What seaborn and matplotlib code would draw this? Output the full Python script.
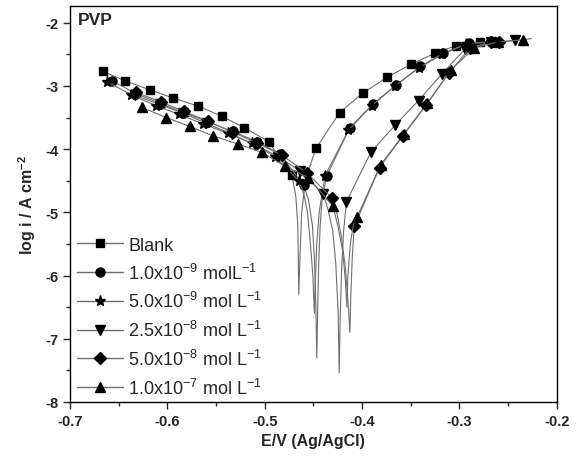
import matplotlib
matplotlib.use("Agg")
import matplotlib.pyplot as plt
from matplotlib.lines import Line2D
from matplotlib.ticker import MultipleLocator
import seaborn as sns
import pandas as pd

# ---------------- data ----------------
labels = ["Blank",
          r"1.0x10$^{-9}$ molL$^{-1}$",
          r"5.0x10$^{-9}$ mol L$^{-1}$",
          r"2.5x10$^{-8}$ mol L$^{-1}$",
          r"5.0x10$^{-8}$ mol L$^{-1}$",
          r"1.0x10$^{-7}$ mol L$^{-1}$"]
marker_shapes = ["s", "o", "*", "v", "D", "^"]

# Blank
blank_cath_E = [-0.666, -0.643, -0.618, -0.594, -0.568, -0.544, -0.521, -0.496, -0.472]
blank_cath_i = [-2.77, -2.92, -3.06, -3.19, -3.32, -3.48, -3.66, -3.88, -4.41]
blank_dip_E = [-0.468, -0.466, -0.4655, -0.465, -0.4635, -0.462, -0.459, -0.455, -0.451]
blank_dip_i = [-4.75, -5.2, -5.7, -6.3, -5.6, -5.0, -4.6, -4.35, -4.15]
blank_an_E = [-0.447, -0.423, -0.399, -0.374, -0.350, -0.325, -0.303, -0.279]
blank_an_i = [-3.98, -3.42, -3.11, -2.86, -2.66, -2.48, -2.36, -2.30]

# 1.0e-9
c1_cath_E = [-0.657, -0.632, -0.607, -0.583, -0.558, -0.533, -0.508, -0.484, -0.460]
c1_cath_i = [-2.92, -3.12, -3.28, -3.42, -3.57, -3.72, -3.88, -4.08, -4.57]
c1_dip_E = [-0.455, -0.451, -0.449, -0.4475, -0.4465, -0.4455, -0.4445, -0.443, -0.441]
c1_dip_i = [-4.8, -5.2, -5.7, -6.4, -7.3, -6.5, -5.8, -5.2, -4.8]
c1_an_E = [-0.4365, -0.4125, -0.3886, -0.3647, -0.340, -0.3167, -0.290, -0.265]
c1_an_i = [-4.43, -3.66, -3.28, -2.98, -2.69, -2.48, -2.32, -2.30]

# 5.0e-9
c2_cath_E = [-0.662, -0.637, -0.612, -0.588, -0.563, -0.538, -0.513, -0.489, -0.465]
c2_cath_i = [-2.93, -3.14, -3.31, -3.45, -3.60, -3.75, -3.91, -4.12, -4.50]
c2_dip_E = [-0.460, -0.456, -0.453, -0.4505, -0.449, -0.448, -0.4465, -0.444, -0.441]
c2_dip_i = [-4.7, -5.0, -5.5, -6.0, -6.6, -6.1, -5.5, -5.0, -4.7]
c2_an_E = [-0.438, -0.414, -0.390, -0.366, -0.342, -0.318, -0.293, -0.268]
c2_an_i = [-4.42, -3.70, -3.31, -3.00, -2.72, -2.50, -2.34, -2.30]

# 2.5e-8
c3_cath_E = [-0.633, -0.608, -0.584, -0.560, -0.534, -0.510, -0.486, -0.464, -0.440]
c3_cath_i = [-3.15, -3.29, -3.43, -3.59, -3.76, -3.93, -4.12, -4.34, -4.71]
c3_dip_E = [-0.435, -0.430, -0.427, -0.4245, -0.4235, -0.4225, -0.421, -0.419]
c3_dip_i = [-4.95, -5.3, -5.8, -6.6, -7.54, -6.7, -5.9, -5.3]
c3_an_E = [-0.416, -0.391, -0.366, -0.342, -0.318, -0.2945, -0.268, -0.243]
c3_an_i = [-4.83, -4.05, -3.62, -3.23, -2.81, -2.42, -2.31, -2.28]

# 5.0e-8
c4_cath_E = [-0.632, -0.607, -0.583, -0.558, -0.533, -0.508, -0.482, -0.457, -0.431]
c4_cath_i = [-3.10, -3.25, -3.40, -3.56, -3.73, -3.90, -4.10, -4.37, -4.77]
c4_dip_E = [-0.426, -0.421, -0.417, -0.414, -0.4125, -0.4115, -0.410]
c4_dip_i = [-5.0, -5.4, -5.9, -6.5, -6.9, -6.3, -5.7]
c4_an_E = [-0.408, -0.382, -0.358, -0.334, -0.311, -0.289, -0.268, -0.259]
c4_an_i = [-5.22, -4.29, -3.79, -3.30, -2.80, -2.40, -2.31, -2.30]

# 1.0e-7
c5_cath_E = [-0.626, -0.601, -0.577, -0.553, -0.527, -0.503, -0.479, -0.455, -0.430]
c5_cath_i = [-3.34, -3.50, -3.64, -3.79, -3.92, -4.05, -4.27, -4.45, -4.90]
c5_dip_E = [-0.425, -0.420, -0.417, -0.4155, -0.4145, -0.412, -0.409]
c5_dip_i = [-5.2, -5.6, -6.1, -6.5, -6.0, -5.5, -5.2]
c5_an_E = [-0.405, -0.381, -0.357, -0.333, -0.309, -0.285, -0.260, -0.235]
c5_an_i = [-5.07, -4.25, -3.76, -3.27, -2.75, -2.40, -2.30, -2.27]
c5_tail_E = [-0.226]
c5_tail_i = [-2.25]

curves = [
    (blank_cath_E, blank_cath_i, blank_dip_E, blank_dip_i, blank_an_E, blank_an_i, [], []),
    (c1_cath_E, c1_cath_i, c1_dip_E, c1_dip_i, c1_an_E, c1_an_i, [], []),
    (c2_cath_E, c2_cath_i, c2_dip_E, c2_dip_i, c2_an_E, c2_an_i, [], []),
    (c3_cath_E, c3_cath_i, c3_dip_E, c3_dip_i, c3_an_E, c3_an_i, [], []),
    (c4_cath_E, c4_cath_i, c4_dip_E, c4_dip_i, c4_an_E, c4_an_i, [], []),
    (c5_cath_E, c5_cath_i, c5_dip_E, c5_dip_i, c5_an_E, c5_an_i, c5_tail_E, c5_tail_i),
]

# ---------------- plotting ----------------
sns.set_style("ticks")
plt.rcParams["font.family"] = ["Liberation Sans", "DejaVu Sans"]
plt.rcParams["mathtext.fontset"] = "custom"
plt.rcParams["mathtext.rm"] = "Liberation Sans"
plt.rcParams["mathtext.bf"] = "Liberation Sans:bold"

fig = plt.figure(figsize=(5.83, 4.6), dpi=100)
ax = fig.add_axes([0.120, 0.124, 0.835, 0.860])

line_color = "#6e6e6e"
msizes = {"s": 6, "o": 6.5, "*": 8, "v": 7, "D": 5.8, "^": 7}

for (ce, ci, de, di, ae, ai, te, ti), lab, m in zip(curves, labels, marker_shapes):
    df_line = pd.DataFrame({"E": ce + de + ae + te, "logi": ci + di + ai + ti})
    sns.lineplot(data=df_line, x="E", y="logi", sort=False, estimator=None,
                 color=line_color, lw=0.8, ax=ax)
    df_m = pd.DataFrame({"E": ce + ae, "logi": ci + ai})
    ax.plot(df_m["E"], df_m["logi"], ls="none", marker=m, ms=msizes[m],
            color="black", mec="black")

ax.set_xlim(-0.7, -0.2)
ax.set_ylim(-8.0, -1.74)
ax.xaxis.set_minor_locator(MultipleLocator(0.05))
ax.yaxis.set_minor_locator(MultipleLocator(0.5))
ax.set_xticks([-0.7, -0.6, -0.5, -0.4, -0.3, -0.2])
ax.set_xticklabels(["-0.7", "-0.6", "-0.5", "-0.4", "-0.3", "-0.2"])
ax.set_yticks([-8, -7, -6, -5, -4, -3, -2])
ax.set_yticklabels(["-8", "-7", "-6", "-5", "-4", "-3", "-2"])
ax.tick_params(which="major", direction="out", length=5, width=1, labelsize=10.5)
ax.tick_params(which="minor", direction="out", length=3, width=1)
for lbl in ax.get_xticklabels() + ax.get_yticklabels():
    lbl.set_fontweight("bold")
for sp in ax.spines.values():
    sp.set_linewidth(1.0)
    sp.set_color("black")

ax.set_xlabel("E/V (Ag/AgCl)", fontsize=11.5, fontweight="bold", labelpad=4)
ax.set_ylabel(r"log i / A cm$^{\mathbf{-2}}$", fontsize=11.5, fontweight="bold", labelpad=5)

ax.text(0.017, 0.985, "PVP", transform=ax.transAxes, fontsize=12.5,
        fontweight="bold", va="top", ha="left")

handles = [Line2D([0], [0], color=line_color, lw=1.0, marker=m, ms=msizes[m],
                  mfc="black", mec="black") for m in marker_shapes]
ax.legend(handles, labels, loc="lower left", bbox_to_anchor=(-0.018, -0.03),
          frameon=False, fontsize=13, handlelength=2.5, handletextpad=0.3,
          labelspacing=0.48, borderaxespad=0.5)

sns.despine(ax=ax, top=False, right=False)
ax.tick_params(top=False, right=False, which="both")

fig.savefig("out.png", dpi=100)
